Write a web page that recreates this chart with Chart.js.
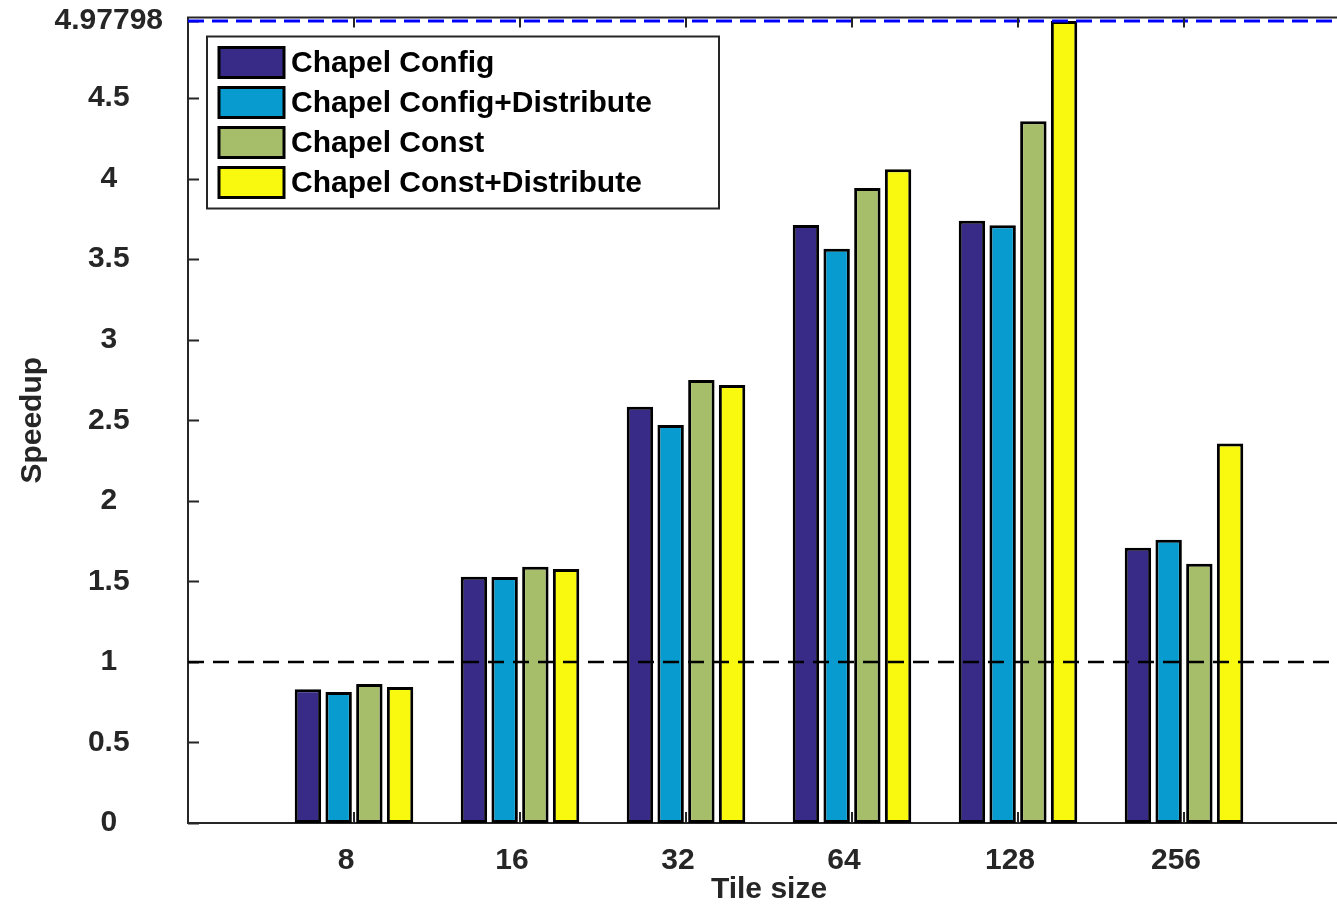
<!DOCTYPE html>
<html>
<head>
<meta charset="utf-8">
<script src="https://cdn.jsdelivr.net/npm/chart.js@4/dist/chart.umd.min.js"></script>
<style>
html,body{margin:0;padding:0;overflow:hidden;background:#ffffff;}
#wrap{width:1352px;height:908px;position:relative;}
</style>
</head>
<body>
<div id="wrap"><canvas id="c"></canvas></div>
<script>
// ---- data ----
const categories = ['8', '16', '32', '64', '128', '256'];
const seriesNames = ['Chapel Config', 'Chapel Config+Distribute', 'Chapel Const', 'Chapel Const+Distribute'];
const chapelConfig           = [0.830, 1.529, 2.584, 3.712, 3.738, 1.709];
const chapelConfigDistribute = [0.813, 1.527, 2.471, 3.565, 3.710, 1.759];
const chapelConst            = [0.863, 1.591, 2.750, 3.942, 4.356, 1.610];
const chapelConstDistribute  = [0.844, 1.577, 2.719, 4.058, 4.97798, 2.355];
const yTickValues = [0, 0.5, 1, 1.5, 2, 2.5, 3, 3.5, 4, 4.5, 4.97798];
const baselineSpeedup = 1;
const maxSpeedup = 4.97798;
const yAxisMax = 5;

// ---- styling ----
const seriesColors = ['#372B87', '#079BCF', '#A6BE6A', '#F8F90F'];
const FONT = "'Liberation Sans', Arial, Helvetica, sans-serif";
const AXIS_COLOR = '#262626';

Chart.defaults.font.family = FONT;
Chart.defaults.font.weight = 'bold';
Chart.defaults.font.size = 30;

// x axis has an empty slot on each side of the categories (MATLAB-like limits)
const leftEdge = ' ', rightEdge = '  ';
const xLabels = [leftEdge].concat(categories, [rightEdge]);
const pad = arr => [null].concat(arr, [null]);
const lastIndex = xLabels.length - 1;

const seriesValues = [chapelConfig, chapelConfigDistribute, chapelConst, chapelConstDistribute];
const barSets = seriesValues.map((vals, i) => ({
  type: 'bar',
  label: seriesNames[i],
  data: pad(vals),
  backgroundColor: seriesColors[i],
  borderColor: '#000000',
  borderWidth: 3,
  borderSkipped: false,
  categoryPercentage: 0.74,
  barPercentage: 0.86,
  order: 1
}));

const refSets = [
  { type: 'line', label: 'baseline', data: [{x: leftEdge, y: baselineSpeedup}, {x: rightEdge, y: baselineSpeedup}],
    borderColor: '#000000', borderWidth: 2.5, borderDash: [16, 9], pointRadius: 0, fill: false, order: 0 },
  { type: 'line', label: 'max', data: [{x: leftEdge, y: maxSpeedup}, {x: rightEdge, y: maxSpeedup}],
    borderColor: '#0000FF', borderWidth: 3, borderDash: [16, 8], pointRadius: 0, fill: false, order: 0 }
];

// inner tick marks + top box line (MATLAB axes frame)
const axisFrame = {
  id: 'axisFrame',
  beforeDatasetsDraw(chart) {
    const {ctx, chartArea: a, scales: {x, y}} = chart;
    ctx.save();
    ctx.strokeStyle = AXIS_COLOR;
    ctx.lineWidth = 2;
    ctx.beginPath();
    yTickValues.forEach(v => {
      const py = Math.round(y.getPixelForValue(v)) + 0.5;
      ctx.moveTo(a.left, py); ctx.lineTo(a.left + 11, py);
    });
    for (let i = 1; i < lastIndex; i++) {
      const px = Math.round(x.getPixelForValue(i));
      ctx.moveTo(px, a.bottom); ctx.lineTo(px, a.bottom - 11);
    }
    ctx.stroke();
    ctx.restore();
  },
  afterDatasetsDraw(chart) {
    const {ctx, chartArea: a, scales: {x}} = chart;
    ctx.save();
    ctx.strokeStyle = AXIS_COLOR;
    ctx.lineWidth = 2;
    ctx.beginPath();
    ctx.moveTo(a.left - 1, a.top); ctx.lineTo(a.right, a.top);
    for (let i = 1; i < lastIndex; i++) {
      const px = Math.round(x.getPixelForValue(i));
      ctx.moveTo(px, a.top); ctx.lineTo(px, a.top + 10);
    }
    ctx.stroke();
    ctx.restore();
  }
};

// boxed legend inside the plot area
const boxLegend = {
  id: 'boxLegend',
  afterDraw(chart, args, o) {
    const {ctx, chartArea: a} = chart;
    const items = chart.data.datasets.filter(d => d.type === 'bar');
    const x0 = a.left + o.offsetX, y0 = a.top + o.offsetY;
    const h = o.padY * 2 + o.rowH * items.length;
    ctx.save();
    ctx.fillStyle = '#ffffff';
    ctx.fillRect(x0, y0, o.width, h);
    ctx.strokeStyle = AXIS_COLOR;
    ctx.lineWidth = 2;
    ctx.strokeRect(x0, y0, o.width, h);
    ctx.font = 'bold 30px ' + FONT;
    ctx.textBaseline = 'middle';
    ctx.textAlign = 'left';
    items.forEach((d, i) => {
      const cy = y0 + o.padY + o.rowH * (i + 0.5);
      const sx = x0 + o.swatchX;
      ctx.fillStyle = d.backgroundColor;
      ctx.fillRect(sx, cy - o.swatchH / 2, o.swatchW, o.swatchH);
      ctx.strokeStyle = '#000000';
      ctx.lineWidth = 3;
      ctx.strokeRect(sx, cy - o.swatchH / 2, o.swatchW, o.swatchH);
      ctx.fillStyle = '#000000';
      ctx.fillText(d.label, x0 + o.textX, cy + 1);
    });
    ctx.restore();
  }
};

new Chart(document.getElementById('c'), {
  type: 'bar',
  data: { labels: xLabels, datasets: barSets.concat(refSets) },
  plugins: [axisFrame, boxLegend],
  options: {
    responsive: true,
    maintainAspectRatio: false,
    animation: false,
    layout: { padding: { left: 0, top: 17.5, right: 2, bottom: 0 } },
    plugins: {
      legend: { display: false },
      tooltip: { enabled: false },
      boxLegend: { offsetX: 19, offsetY: 19, width: 512, padY: 6, rowH: 40,
                   swatchX: 12, swatchW: 65, swatchH: 30, textX: 84 }
    },
    scales: {
      x: {
        type: 'category',
        offset: false,
        grid: { display: false },
        border: { display: true, color: AXIS_COLOR, width: 2 },
        ticks: { color: AXIS_COLOR, font: { size: 30, weight: 'bold' }, padding: 12,
                 labelOffset: -8, maxRotation: 0, autoSkip: false },
        title: { display: true, text: 'Tile size', color: AXIS_COLOR,
                 font: { size: 30, weight: 'bold' }, padding: { top: 0, bottom: 0 } },
        afterFit: s => { s.height = 85; s.paddingLeft = 0; s.paddingRight = 0; }
      },
      y: {
        type: 'linear',
        min: 0,
        max: yAxisMax,
        grid: { display: false },
        border: { display: true, color: AXIS_COLOR, width: 2 },
        afterBuildTicks: s => { s.ticks = yTickValues.map(v => ({ value: v })); },
        ticks: { color: AXIS_COLOR, font: { size: 30, weight: 'bold' }, padding: 17,
                 crossAlign: 'center', callback: v => String(v) },
        title: { display: true, text: 'Speedup', color: AXIS_COLOR,
                 font: { size: 30, weight: 'bold' }, padding: { top: 15, bottom: 0 } },
        afterFit: s => { s.width = 188; s.paddingTop = 0; s.paddingBottom = 0; }
      }
    }
  }
});
</script>
</body>
</html>
